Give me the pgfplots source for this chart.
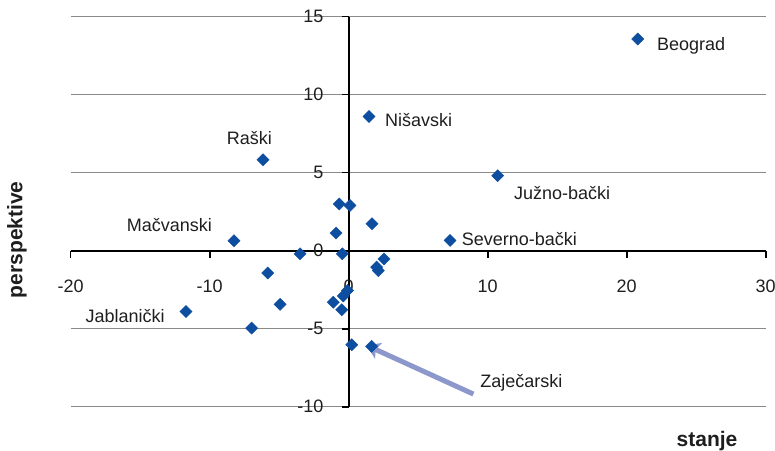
\documentclass[border=0pt]{standalone}
\usepackage{pgfplots}
\pgfplotsset{compat=1.18}
\usepackage{fontspec}
\setmainfont{Liberation Sans}
\usetikzlibrary{arrows.meta}

\definecolor{ptblue}{HTML}{0D4EA0}
\definecolor{gridgray}{HTML}{8A8A8A}
\definecolor{arrowblue}{HTML}{8C98CC}
\definecolor{txt}{HTML}{1E1E1E}

% districts: stanje (x) vs perspektive (y)
\pgfplotstableread{
x      y
20.79  13.57
1.46   8.60
-6.17  5.83
10.72  4.81
7.29   0.66
-8.25  0.64
-11.71 -3.90
1.65   -6.13
-0.68  3.00
0.09   2.90
1.68   1.73
-0.91  1.13
-0.46  -0.20
-3.50  -0.20
2.54   -0.53
2.01   -1.05
2.13   -1.28
-5.83  -1.43
-0.09  -2.55
-0.39  -2.90
-1.11  -3.30
-4.94  -3.44
-0.50  -3.78
-6.98  -4.96
0.22   -6.03
}\districts

\begin{document}
\begin{tikzpicture}[font=\fontsize{18}{21}\selectfont]
\path[use as bounding box] (-70.7pt,-43.3pt) rectangle (704.3pt,406.7pt);
\begin{axis}[
  scale only axis,
  width=695pt, height=390pt,
  xmin=-20, xmax=30, ymin=-10, ymax=15,
  axis lines=middle,
  axis line style={black, line width=1.6pt, -},
  xtick={-20,-10,0,10,20,30},
  ytick={-10,-5,0,5,10,15},
  hide obscured x ticks=false,
  hide obscured y ticks=false,
  tick align=outside,
  major tick length=7pt,
  tick style={black, line width=1.6pt},
  ymajorgrids,
  grid style={gridgray, line width=1.3pt},
  /pgf/number format/assume math mode=true,
  tick label style={text=txt, font=\fontsize{18}{21}\selectfont},
  xticklabel style={anchor=center, inner sep=0pt, yshift=-29pt},
  yticklabel style={anchor=east, inner sep=0pt, xshift=-18pt},
  clip=false,
]
  \addplot[only marks, mark=square*, mark size=4.3pt,
    mark options={fill=ptblue, draw=ptblue, rotate=45}]
    table[x=x, y=y] {\districts};

  \draw[arrowblue, line width=5pt, -{Stealth[length=13pt, width=17pt, inset=3pt]}]
    (axis cs:8.97,-9.19) -- (axis cs:1.29,-6.07);

  \begin{scope}[every node/.style={text=txt, inner sep=0pt}]
  \node[anchor=west] at (axis cs:22.18,13.14) {Beograd};
  \node[anchor=west] at (axis cs:2.61,8.40) {Nišavski};
  \node[anchor=center] at (axis cs:-7.14,7.24) {Raški};
  \node[anchor=west] at (axis cs:11.89,3.72) {Južno-bački};
  \node[anchor=west] at (axis cs:8.13,0.77) {Severno-bački};
  \node[anchor=east] at (axis cs:-9.83,1.67) {Mačvanski};
  \node[anchor=east] at (axis cs:-13.22,-4.17) {Jablanički};
  \node[anchor=west] at (axis cs:9.45,-8.46) {Zaječarski};
  \node[font=\fontsize{21}{24}\selectfont\bfseries] at (axis cs:25.78,-12.18) {stanje};
  \node[font=\fontsize{21}{24}\selectfont\bfseries, rotate=90] at (axis cs:-23.87,0.7) {perspektive};
  \end{scope}
\end{axis}
\end{tikzpicture}
\end{document}
